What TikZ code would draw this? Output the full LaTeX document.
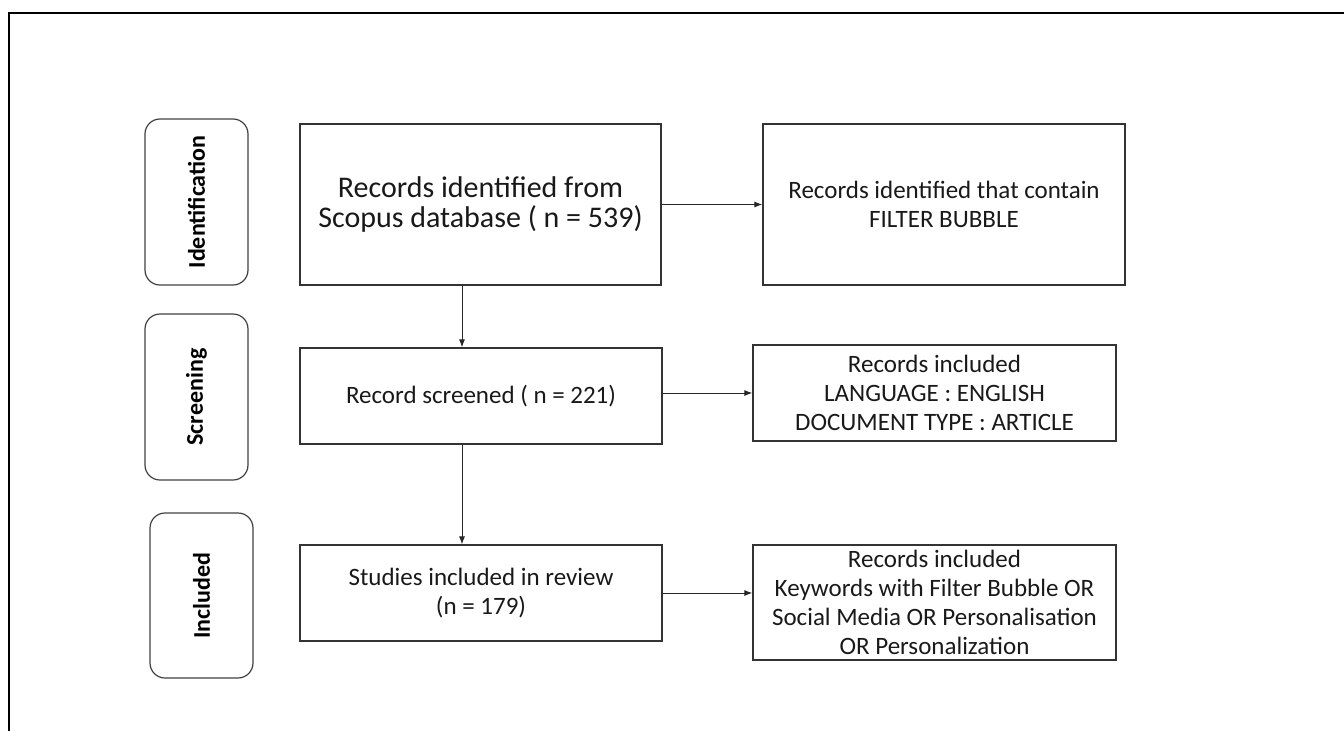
\documentclass[tikz,border=0pt]{standalone}
\usepackage{fontspec}
\setmainfont{Carlito}
\usetikzlibrary{arrows.meta}

\tikzset{
  stagebox/.style={draw=black!75, line width=1.2pt, rounded corners=15pt, inner sep=0pt,
    minimum width=103pt, minimum height=166pt},
  stagetext/.style={font=\fontsize{24}{28}\selectfont\bfseries, rotate=90},
  flowbox/.style={draw=black!80, line width=1.2pt, inner sep=0pt, align=center,
    text=black!90, font=\fontsize{25}{29}\selectfont},
  arr/.style={draw=black!85, line width=1pt, -{Latex[length=8pt,width=6pt]}}
}

\begin{document}
\begin{tikzpicture}[x=1pt,y=-1pt]
    \useasboundingbox (0,0) rectangle (1344,731);
    % frame
    \draw[line width=2.8pt] (9,731)--(9,13)--(1344,13);

    % stages
    \node[stagebox] (ident) at (196.5,202) {};
    \node[stagetext] at (ident) {Identification};
    \node[stagebox] (screen) at (196.5,397) {};
    \node[stagetext] at (screen) {Screening};
    \node[stagebox, minimum height=165pt] (incl) at (201.5,595.5) {};
    \node[stagetext] at (incl) {Included};

    % main column
    \node[flowbox, minimum width=361pt, minimum height=161pt,
      font=\fontsize{30}{30}\selectfont] (rec) at (480.5,204.5)
      {Records identified from\\Scopus database ( n = 539)};
    \node[flowbox, minimum width=362pt, minimum height=96pt] (scrd) at (481,396)
      {Record screened ( n = 221)};
    \node[flowbox, minimum width=362pt, minimum height=96pt] (stud) at (481,593)
      {Studies included in review\\(n = 179)};

    % right column
    \node[flowbox, minimum width=362pt, minimum height=161pt] (fb) at (944,204.5)
      {Records identified that contain\\FILTER BUBBLE};
    \node[flowbox, minimum width=363pt, minimum height=96pt] (lang) at (934.5,393)
      {Records included\\LANGUAGE : ENGLISH\\DOCUMENT TYPE : ARTICLE};
    \node[flowbox, minimum width=363pt, minimum height=115pt] (kw) at (934.5,602.5)
      {Records included\\Keywords with Filter Bubble OR\\Social Media OR Personalisation\\OR Personalization};

    % connectors
    \coordinate (vx) at (462,0);
    \draw[arr] (rec.south -| vx) -- (scrd.north -| vx);
    \draw[arr] (scrd.south -| vx) -- (stud.north -| vx);
    \draw[arr] (rec.east) -- (fb.west);
    \draw[arr] (scrd.east |- lang.west) -- (lang.west);
    \draw[arr] (stud.east) -- (stud.east -| kw.west);
\end{tikzpicture}
\end{document}
